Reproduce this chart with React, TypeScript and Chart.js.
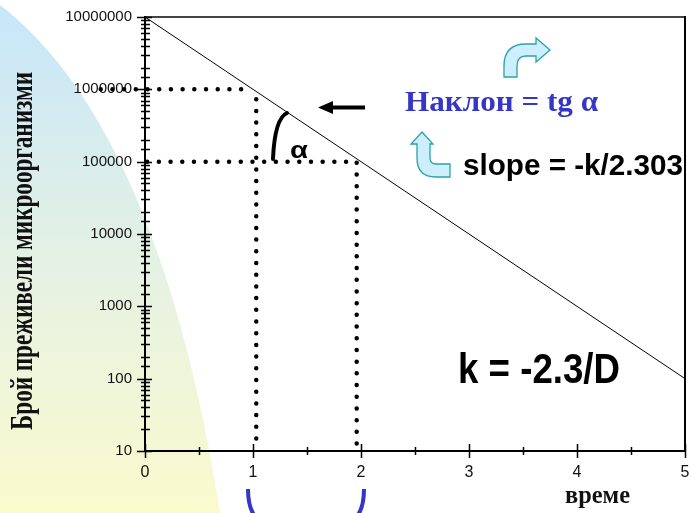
import React, { useEffect, useRef } from 'react';
import { Chart, registerables } from 'chart.js';

Chart.register(...registerables);

// ---- data ----
const decayTime = [0, 5];
const decaySurvivors = [10000000, 100];

const guideAHTime = [-0.41, 0.9];
const guideAHSurvivors = [1000000, 1000000];
const guideAVTime = [1.03, 1.03];
const guideAVSurvivors = [730000, 11];
const guideBTime = [0.02, 1.96, 1.96];
const guideBSurvivors = [100000, 100000, 10];

const yTickLabels = ['10', '100', '1000', '10000', '100000', '1000000', '10000000'];
const xTickLabels = ['0', '1', '2', '3', '4', '5'];

const yTitle = 'Брой преживели микроорганизми';
const xTitle = 'време';
const slopeRu = 'Наклон = tg α';
const slopeEn = 'slope = -k/2.303';
const kText = 'k = -2.3/D';
const alphaText = 'α';

const SANS = "'Liberation Sans', Arial, sans-serif";
const SERIF = "'Liberation Serif', 'Times New Roman', serif";
const BLUE = '#3535c8';

const toPoints = (xs: number[], ys: number[]) => xs.map((x, i) => ({ x, y: ys[i] }));

function fitText(ctx: CanvasRenderingContext2D, text: string, x: number, y: number, font: string, width: number, color: string) {
  ctx.save();
  ctx.font = font;
  const w = ctx.measureText(text).width;
  ctx.translate(x, y);
  ctx.scale(width / w, 1);
  ctx.fillStyle = color;
  ctx.textAlign = 'left';
  ctx.textBaseline = 'alphabetic';
  ctx.fillText(text, 0, 0);
  ctx.restore();
}

const backgroundPlugin = {
  id: 'bgShape',
  beforeDraw(chart: any) {
    const ctx = chart.ctx as CanvasRenderingContext2D;
    const h = chart.height;
    ctx.save();
    const g = ctx.createLinearGradient(0, 0, 0, h);
    g.addColorStop(0, '#c6e6fa');
    g.addColorStop(0.5, '#e4f1e4');
    g.addColorStop(1, '#fafacd');
    ctx.fillStyle = g;
    ctx.beginPath();
    ctx.moveTo(0, 5);
    ctx.bezierCurveTo(110, 90, 182, 270, 220, h);
    ctx.lineTo(0, h);
    ctx.closePath();
    ctx.fill();
    ctx.restore();
  },
};

const axesPlugin = {
  id: 'axesAndNotes',
  afterDraw(chart: any) {
    const ctx = chart.ctx as CanvasRenderingContext2D;
    const { left, right, top, bottom } = chart.chartArea;
    const xs = chart.scales.x;
    const ys = chart.scales.y;
    ctx.save();
    // frame
    ctx.lineCap = 'butt';
    ctx.strokeStyle = '#444';
    ctx.lineWidth = 2;
    ctx.beginPath();
    ctx.moveTo(left, top);
    ctx.lineTo(right + 1, top);
    ctx.stroke();
    ctx.strokeStyle = '#000';
    ctx.beginPath();
    ctx.moveTo(right, top - 1);
    ctx.lineTo(right, bottom);
    ctx.stroke();
    // axes
    ctx.beginPath();
    ctx.moveTo(left, top - 1);
    ctx.lineTo(left, bottom + 1);
    ctx.moveTo(left - 1, bottom);
    ctx.lineTo(right + 1, bottom);
    ctx.stroke();
    // y ticks
    ctx.lineWidth = 1.5;
    ctx.beginPath();
    ys.ticks.forEach((t: any) => {
      const py = Math.round(ys.getPixelForValue(t.value)) + 0.5;
      const major = yTickLabels.includes(String(Math.round(t.value)));
      const l = major ? 8 : 4;
      const r = major ? 7 : 5;
      ctx.moveTo(left - l, py);
      ctx.lineTo(left + r, py);
    });
    ctx.stroke();
    // x ticks
    ctx.beginPath();
    xs.ticks.forEach((t: any) => {
      const px = Math.round(xs.getPixelForValue(t.value)) + 0.5;
      const major = xTickLabels.includes(String(t.value));
      const l = major ? 7 : 4;
      ctx.moveTo(px, bottom - l);
      ctx.lineTo(px, bottom + l);
    });
    ctx.stroke();
    ctx.restore();

    // y title
    ctx.save();
    ctx.translate(32, 430);
    ctx.rotate(-Math.PI / 2);
    fitText(ctx, yTitle, 0, 0, `bold 31px ${SERIF}`, 358, '#111');
    ctx.restore();

    // x title
    fitText(ctx, xTitle, 565, 503, `bold 25px ${SERIF}`, 65, '#111');

    // texts
    fitText(ctx, slopeRu, 405, 111, `bold 29px ${SERIF}`, 193, BLUE);
    fitText(ctx, slopeEn, 463, 175, `bold 29px ${SANS}`, 220, '#000');
    fitText(ctx, kText, 458, 383, `bold 42px ${SANS}`, 162, '#000');
    fitText(ctx, alphaText, 290, 158, `bold 24px ${SANS}`, 18, '#000');

    ctx.save();
    // black left arrow
    ctx.fillStyle = '#000';
    ctx.strokeStyle = '#000';
    ctx.lineWidth = 4;
    ctx.beginPath();
    ctx.moveTo(365, 107.5);
    ctx.lineTo(330, 107.5);
    ctx.stroke();
    ctx.beginPath();
    ctx.moveTo(318, 107.5);
    ctx.lineTo(333, 101);
    ctx.lineTo(333, 114);
    ctx.closePath();
    ctx.fill();

    // angle arc
    ctx.lineWidth = 4;
    ctx.lineCap = 'round';
    ctx.beginPath();
    ctx.moveTo(273, 159);
    ctx.bezierCurveTo(274, 135, 278, 117, 287, 113);
    ctx.stroke();

    // blue brackets
    ctx.strokeStyle = BLUE;
    ctx.lineWidth = 4;
    ctx.lineCap = 'butt';
    ctx.beginPath();
    ctx.moveTo(248, 489);
    ctx.quadraticCurveTo(248, 506, 254, 515);
    ctx.moveTo(364, 489);
    ctx.quadraticCurveTo(364, 506, 358, 515);
    ctx.stroke();

    // curved block arrows
    ctx.fillStyle = '#cdeefc';
    ctx.strokeStyle = '#2aa3a8';
    ctx.lineWidth = 1.3;
    ctx.lineJoin = 'miter';
    ctx.beginPath();
    ctx.moveTo(504, 77);
    ctx.lineTo(504, 66);
    ctx.quadraticCurveTo(504, 44, 526, 44);
    ctx.lineTo(536, 44);
    ctx.lineTo(536, 38);
    ctx.lineTo(550, 50);
    ctx.lineTo(536, 62);
    ctx.lineTo(536, 56);
    ctx.lineTo(526, 56);
    ctx.quadraticCurveTo(517, 56, 517, 66);
    ctx.lineTo(517, 77);
    ctx.closePath();
    ctx.fill();
    ctx.stroke();

    ctx.beginPath();
    ctx.moveTo(422, 132);
    ctx.lineTo(433, 144);
    ctx.lineTo(430, 144);
    ctx.lineTo(430, 158);
    ctx.quadraticCurveTo(430, 164, 436, 164);
    ctx.lineTo(450, 164);
    ctx.lineTo(450, 177);
    ctx.lineTo(436, 177);
    ctx.quadraticCurveTo(417, 177, 417, 158);
    ctx.lineTo(417, 144);
    ctx.lineTo(411, 144);
    ctx.closePath();
    ctx.fill();
    ctx.stroke();
    ctx.restore();
  },
};

const dotted = {
  borderColor: '#000',
  borderWidth: 4.5,
  borderDash: [0, 11.7],
  borderCapStyle: 'round' as const,
  pointRadius: 0,
  fill: false,
  clip: false as const,
  tension: 0,
};

export default function App() {
  const ref = useRef<HTMLCanvasElement | null>(null);
  useEffect(() => {
    if (!ref.current) return;
    const chart = new Chart(ref.current, {
      type: 'line',
      data: {
        datasets: [
          { data: toPoints(decayTime, decaySurvivors), borderColor: '#000', borderWidth: 1, pointRadius: 0, fill: false, clip: false as const },
          { data: toPoints(guideAHTime, guideAHSurvivors), ...dotted },
          { data: toPoints(guideAVTime, guideAVSurvivors), ...dotted },
          { data: toPoints(guideBTime, guideBSurvivors), ...dotted },
        ],
      },
      options: {
        animation: false,
        responsive: false,
        devicePixelRatio: 1,
        layout: { padding: { left: 0, right: 6, top: 17, bottom: 0 } },
        plugins: { legend: { display: false }, tooltip: { enabled: false } },
        events: [],
        scales: {
          x: {
            type: 'linear',
            min: 0,
            max: 5,
            grid: { display: false, drawTicks: false },
            border: { display: false },
            ticks: {
              stepSize: 0.5,
              autoSkip: false,
              maxRotation: 0,
              padding: 12,
              color: '#111',
              font: { family: SANS, size: 16 },
              callback: (v: any) => (xTickLabels.includes(String(v)) ? String(v) : ''),
            },
            afterFit: (s: any) => {
              s.height = 62;
              s.paddingLeft = 0; s.paddingRight = 0; s.paddingTop = 0; s.paddingBottom = 0;
            },
          },
          y: {
            type: 'logarithmic',
            min: 10,
            max: 10000000,
            grid: { display: false, drawTicks: false },
            border: { display: false },
            ticks: {
              autoSkip: false,
              padding: 13,
              color: '#111',
              font: { family: SANS, size: 15 },
              callback: (v: any) => {
                const s = String(Math.round(Number(v)));
                return yTickLabels.includes(s) ? s : '';
              },
            },
            afterFit: (s: any) => {
              s.width = 145;
              s.paddingLeft = 0; s.paddingRight = 0; s.paddingTop = 0; s.paddingBottom = 0;
            },
          },
        },
      },
      plugins: [backgroundPlugin, axesPlugin],
    });
    return () => chart.destroy();
  }, []);
  return (
    <div style={{ position: 'fixed', left: 0, top: 0, width: 691, height: 513 }}>
      <canvas ref={ref} width={691} height={513} style={{ width: 691, height: 513, display: 'block' }} />
    </div>
  );
}
